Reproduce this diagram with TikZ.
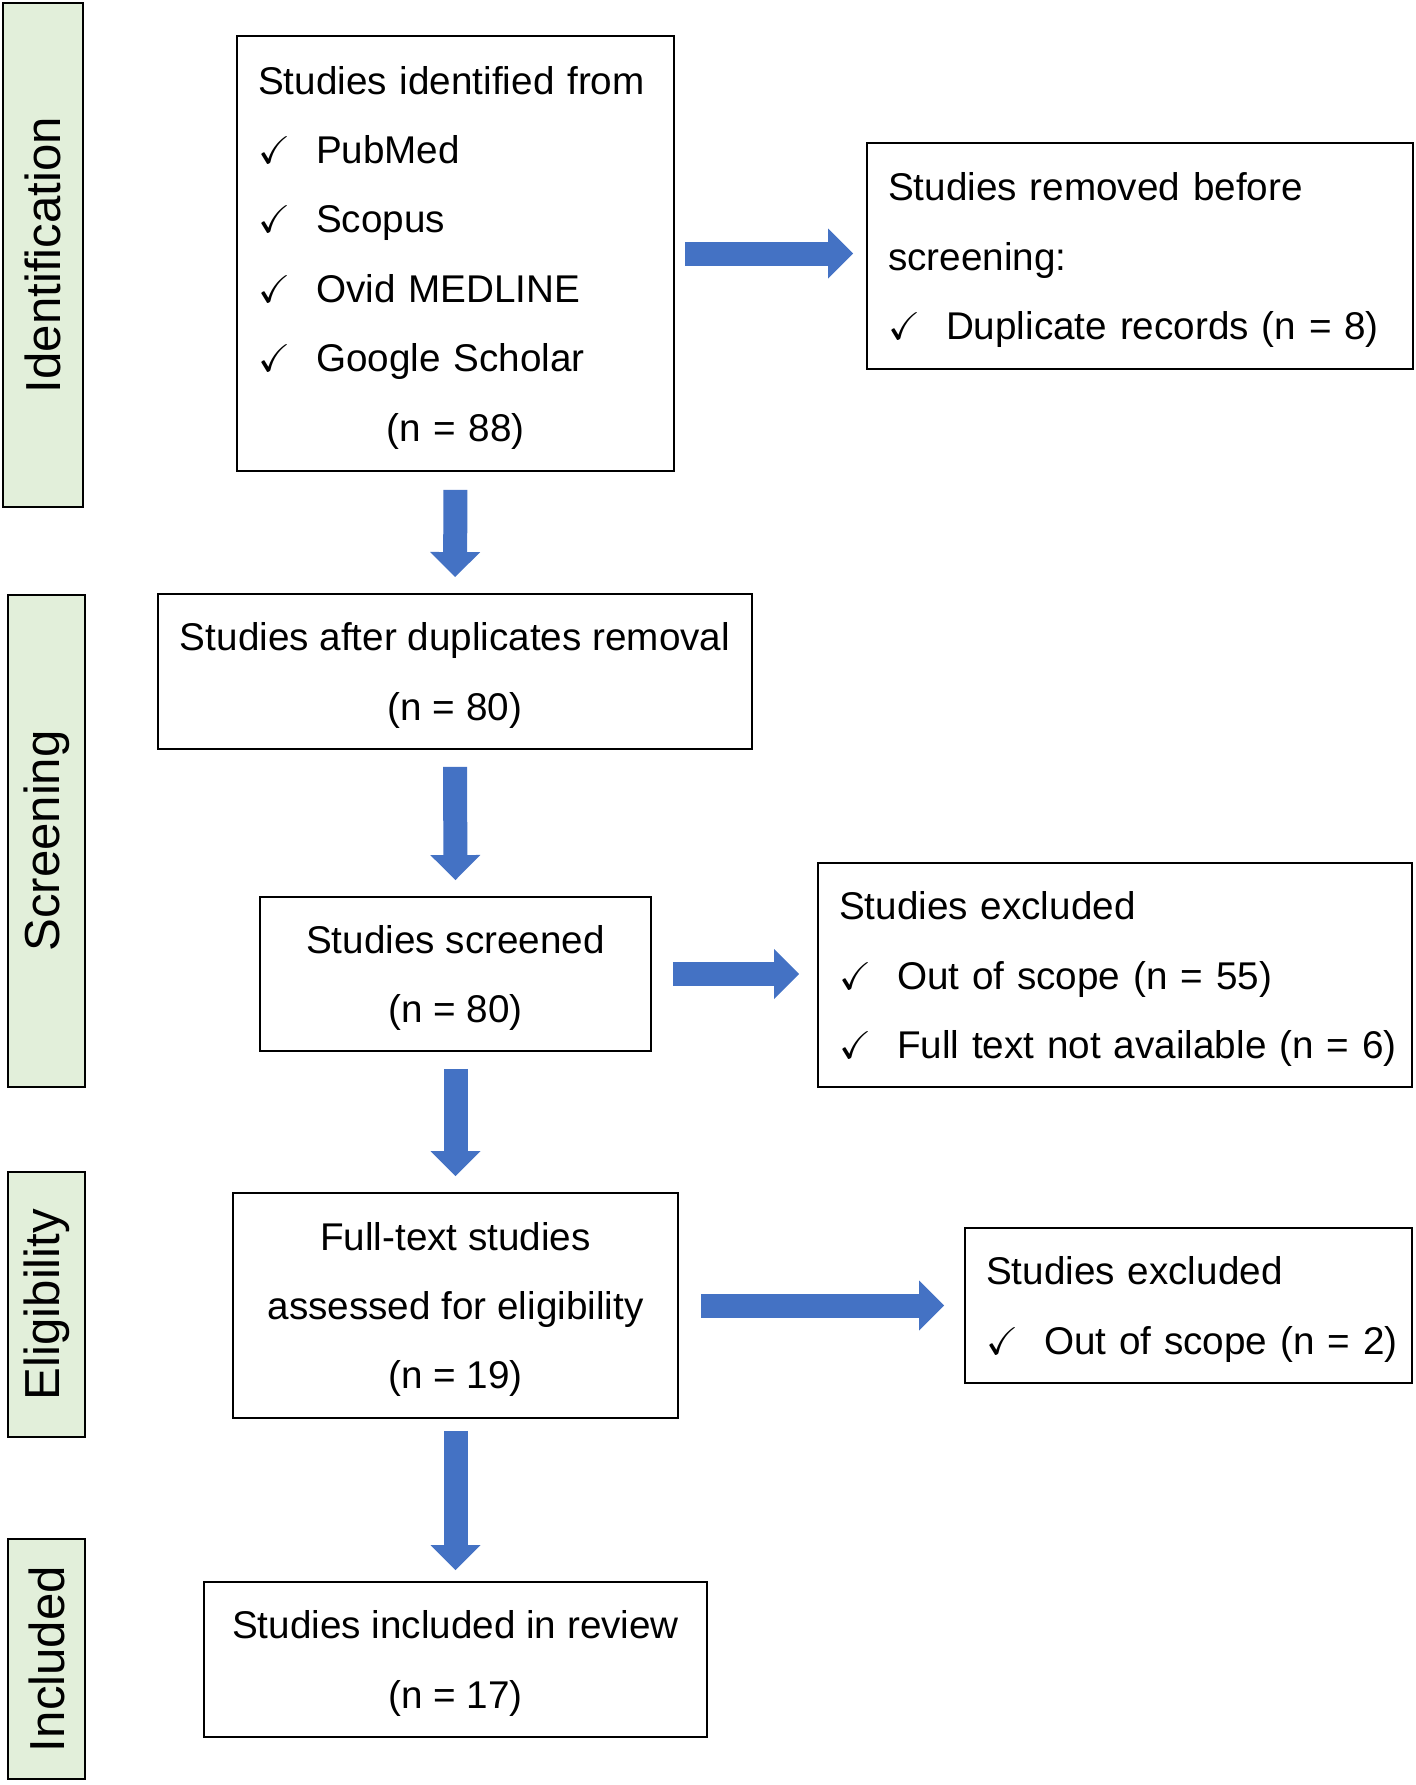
\documentclass[tikz,border=0pt]{standalone}
\usepackage{amssymb}
\usepackage{fontspec}
\setmainfont{Liberation Sans}
\usepackage{tikz}
\usetikzlibrary{arrows.meta}

\definecolor{flowblue}{RGB}{68,114,196}
\definecolor{phasegreen}{RGB}{226,239,218}
\newcommand{\chk}[1]{\makebox[1.16cm][l]{$\checkmark$}\mbox{#1}}

\begin{document}
\begin{tikzpicture}[x=0.02cm, y=-0.02cm,
		box/.style={draw, line width=1.1pt, font=\fontsize{22}{39.5}\selectfont, inner xsep=0.42cm, inner ysep=0pt},
		phase/.style={draw, fill=phasegreen, line width=1.1pt, rotate=90, font=\fontsize{28}{34}\selectfont, inner sep=0pt, minimum height=1.54cm},
		flow/.style={draw=flowblue, line width=0.48cm, -{Triangle[width=1cm,length=0.5cm,line width=0pt]}, shorten <=0.34cm, shorten >=0.32cm}]
			\useasboundingbox (0,0) rectangle (1416,1785);
			% phases
			\node[phase, minimum width=10.08cm, minimum height=1.60cm] (ident) at (43,255) {Identification};
			\node[phase, minimum width=9.84cm] (screen) at (46.5,841) {Screening};
			\node[phase, minimum width=5.30cm] (elig) at (46.5,1304.5) {Eligibility};
			\node[phase, minimum width=4.80cm] (incl) at (46.5,1659) {Included};
			% boxes
			\node[box, minimum width=8.74cm, minimum height=8.70cm, text width=7.90cm, align=left] (idf) at (455.5,253.5) {Studies identified from\\ \chk{PubMed}\\ \chk{Scopus}\\ \chk{Ovid MEDLINE}\\ \chk{Google Scholar}\\ \smash{\makebox[7.90cm]{(n = 88)}}};
			\node[box, minimum width=10.92cm, minimum height=4.52cm, text width=10.08cm, align=left] (rem) at (1140,256) {Studies removed before\\ screening:\\ \smash{\chk{Duplicate records (n = 8)}}};
			\node[box, minimum width=11.88cm, minimum height=3.10cm, align=center] (dup) at (455,671.5) {Studies after duplicates removal\\ \smash{(n = 80)}};
			\node[box, minimum width=7.82cm, minimum height=3.08cm, align=center] (scr) at (455.5,974) {Studies screened\\ \smash{(n = 80)}};
			\node[box, minimum width=11.88cm, minimum height=4.48cm, text width=11.04cm, align=left] (exc1) at (1115,975) {Studies excluded\\ \chk{Out of scope (n = 55)}\\ \smash{\chk{Full text not available (n = 6)}}};
			\node[box, minimum width=8.90cm, minimum height=4.50cm, align=center] (full) at (455.5,1305.5) {Full-text studies\\ assessed for eligibility\\ \smash{(n = 19)}};
			\node[box, minimum width=8.94cm, minimum height=3.10cm, text width=8.10cm, align=left] (exc2) at (1188.5,1305.5) {Studies excluded\\ \smash{\chk{Out of scope (n = 2)}}};
			\node[box, minimum width=10.06cm, minimum height=3.10cm, align=center] (inc) at (455.5,1659.5) {Studies included in review\\ \smash{(n = 17)}};
			% arrows
			\draw[flow, shorten <=0.36cm] (idf.south) -- (dup.north);
			\draw[flow, shorten <=0.2cm, shorten >=0.26cm] (idf.east) -- (idf.east -| rem.west);
			\draw[flow] (dup.south) -- (scr.north);
			\draw[flow, shorten <=0.42cm, shorten >=0.36cm] (scr.east) -- (scr.east -| exc1.west);
			\draw[flow] (scr.south) -- (full.north);
			\draw[flow, shorten <=0.44cm, shorten >=0.4cm] (full.east) -- (full.east -| exc2.west);
			\draw[flow, shorten <=0.24cm, shorten >=0.22cm] (full.south) -- (inc.north);
		\end{tikzpicture}
\end{document}
